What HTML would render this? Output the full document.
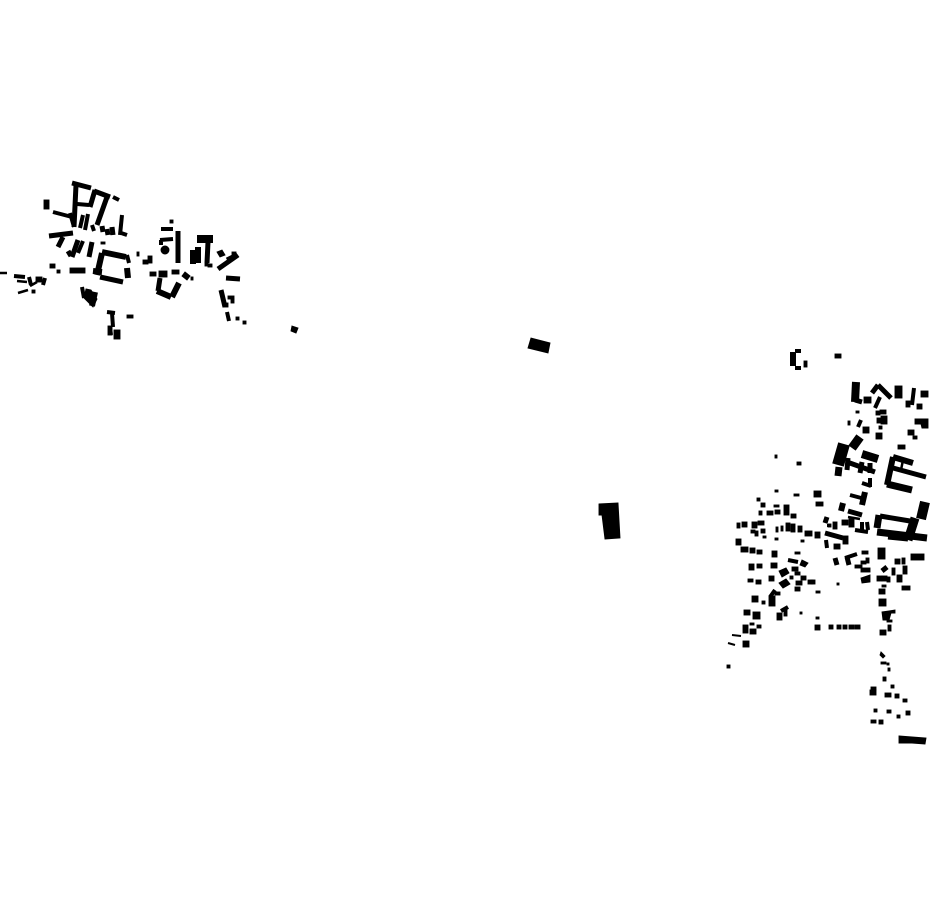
<!DOCTYPE html>
<html><head><meta charset="utf-8"><title>Figure-ground map</title>
<style>html,body{margin:0;padding:0;background:#fff}svg{display:block}</style></head>
<body>
<svg width="930" height="924" viewBox="0 0 930 924" xmlns="http://www.w3.org/2000/svg">
<rect width="930" height="924" fill="#fff"/>
<g fill="#000" stroke="#000" stroke-width="0.9">
<!-- big isolated -->
<polygon points="531,338 550,343 548,353 528,348"/>
<polygon points="599,504 618,503 620,538 605,539 602,515 599,515"/>
<polygon points="292,326 298,328 296,333 291,331"/>
<polygon points="899,736 926,738 925,744 912,743 899,743"/>
<polygon points="915,419 928,419 928,428 922,428 921,424 915,424"/>
<polygon points="86,289 91,290 97,299 93,307 84,298"/>
<!-- west blocks -->
<rect x="44" y="200" width="5" height="9"/><rect x="70" y="268" width="15" height="5"/><rect x="50" y="264" width="5" height="4"/><rect x="57" y="270" width="3" height="3"/>
<rect x="143" y="260" width="5" height="4"/><rect x="148" y="256" width="4" height="7"/><rect x="137" y="252" width="2" height="4"/>
<rect x="101" y="242" width="4" height="2"/><rect x="36" y="277" width="6" height="5"/><rect x="32" y="290" width="3" height="3"/>
<rect x="170" y="220" width="3" height="3"/><circle cx="165" cy="250" r="4"/><rect x="150" y="272" width="6" height="4"/><rect x="159" y="271" width="8" height="6"/><rect x="172" y="270" width="7" height="4"/><polygon points="185,272 190,276 187,280 182,276"/><rect x="191" y="277" width="2" height="3"/>
<rect x="208" y="264" width="4" height="3"/><rect x="205" y="263" width="3" height="3"/><polygon points="217,252 222,250 225,255 220,257"/><rect x="232" y="252" width="4" height="3"/>
<rect x="236" y="317" width="3" height="3"/><rect x="243" y="321" width="3" height="3"/><rect x="228" y="296" width="6" height="3"/><rect x="231" y="299" width="3" height="4"/><rect x="223" y="303" width="5" height="4"/>
<rect x="127" y="315" width="6" height="3"/><rect x="114" y="330" width="6" height="9"/><rect x="108" y="326" width="4" height="9"/>
<!-- mid east isolated -->
<rect x="835" y="354" width="6" height="4"/><rect x="804" y="361" width="3" height="6"/><rect x="797" y="462" width="4" height="3"/><rect x="775" y="455" width="2" height="3"/><rect x="814" y="491" width="7" height="6"/><rect x="816" y="502" width="7" height="4"/><rect x="794" y="494" width="5" height="2"/><rect x="775" y="490" width="3" height="2"/>
<!-- NE -->
<rect x="864" y="397" width="7" height="6"/><rect x="895" y="386" width="7" height="12"/><rect x="921" y="391" width="7" height="6"/><rect x="906" y="401" width="4" height="6"/><rect x="917" y="404" width="5" height="5"/><rect x="856" y="411" width="3" height="2"/><rect x="880" y="410" width="6" height="4"/><rect x="876" y="411" width="4" height="4"/><rect x="877" y="418" width="5" height="5"/><rect x="881" y="416" width="6" height="8"/><rect x="879" y="426" width="3" height="3"/><rect x="848" y="421" width="2" height="4"/><rect x="863" y="427" width="6" height="6"/><rect x="876" y="433" width="6" height="6"/><rect x="908" y="430" width="6" height="5"/><rect x="913" y="436" width="4" height="3"/><rect x="898" y="445" width="7" height="4"/>
<!-- south of town east -->
<rect x="849" y="519" width="5" height="8"/><rect x="842" y="520" width="6" height="5"/><rect x="833" y="522" width="4" height="7"/><rect x="828" y="524" width="3" height="3"/>
<rect x="815" y="532" width="5" height="6"/><rect x="805" y="531" width="7" height="5"/><rect x="798" y="526" width="4" height="6"/><rect x="791" y="524" width="4" height="8"/><rect x="786" y="523" width="4" height="8"/><rect x="781" y="526" width="2" height="5"/><rect x="776" y="527" width="2" height="5"/><rect x="843" y="536" width="5" height="8"/><rect x="834" y="544" width="6" height="5"/>
<rect x="878" y="548" width="7" height="11"/><rect x="911" y="554" width="13" height="6"/><rect x="895" y="559" width="5" height="5"/><rect x="902" y="558" width="3" height="6"/><rect x="892" y="568" width="3" height="7"/><rect x="903" y="566" width="4" height="8"/><rect x="897" y="575" width="5" height="7"/><rect x="877" y="576" width="5" height="5"/><rect x="882" y="576" width="5" height="5"/><rect x="887" y="577" width="3" height="5"/><rect x="902" y="586" width="8" height="4"/><rect x="882" y="585" width="4" height="2"/><rect x="879" y="589" width="6" height="5"/><rect x="879" y="599" width="7" height="7"/>
<polygon points="882,612 895,610 895,613 891,613 889,620 883,620"/><rect x="887" y="620" width="5" height="2"/><rect x="880" y="630" width="6" height="5"/><rect x="888" y="625" width="3" height="6"/>
<rect x="855" y="565" width="7" height="3"/><rect x="861" y="561" width="5" height="3"/><rect x="866" y="558" width="3" height="5"/><rect x="861" y="568" width="9" height="4"/><polygon points="861,578 870,575 870,582 862,583"/><rect x="862" y="551" width="6" height="3"/><rect x="811" y="580" width="4" height="4"/><rect x="816" y="591" width="4" height="2"/><rect x="837" y="583" width="2" height="2"/>
<!-- dotted row -->
<rect x="815" y="625" width="5" height="5"/><rect x="829" y="625" width="4" height="4"/><rect x="837" y="625" width="4" height="4"/><rect x="843" y="625" width="4" height="4"/><rect x="849" y="625" width="5" height="4"/><rect x="855" y="625" width="5" height="4"/><rect x="816" y="617" width="3" height="2"/>
<!-- SW cluster -->
<rect x="757" y="498" width="3" height="3"/><rect x="761" y="503" width="4" height="4"/><rect x="774" y="505" width="5" height="2"/><rect x="759" y="511" width="3" height="4"/><rect x="767" y="511" width="6" height="4"/><rect x="775" y="510" width="5" height="4"/><rect x="784" y="505" width="5" height="10"/><rect x="791" y="514" width="5" height="4"/>
<rect x="737" y="523" width="3" height="5"/><rect x="742" y="522" width="5" height="5"/><rect x="752" y="522" width="5" height="6"/><rect x="758" y="521" width="6" height="4"/><rect x="751" y="530" width="4" height="3"/><rect x="755" y="531" width="3" height="5"/><rect x="761" y="529" width="4" height="4"/><rect x="763" y="536" width="3" height="2"/><rect x="775" y="538" width="3" height="2"/><rect x="801" y="540" width="3" height="2"/>
<rect x="736" y="539" width="5" height="6"/><rect x="741" y="547" width="7" height="5"/><rect x="750" y="548" width="5" height="5"/><rect x="757" y="550" width="5" height="4"/><rect x="772" y="551" width="5" height="6"/><rect x="795" y="552" width="5" height="2"/>
<rect x="749" y="564" width="5" height="6"/><rect x="757" y="564" width="5" height="4"/><rect x="771" y="563" width="6" height="5"/><rect x="748" y="579" width="5" height="3"/><rect x="756" y="580" width="5" height="4"/><rect x="769" y="576" width="5" height="5"/>
<polygon points="779,571 786,568 789,573 782,577"/><polygon points="779,583 786,579 790,584 783,588"/><polygon points="802,560 808,563 805,567 800,565"/><rect x="792" y="567" width="6" height="4"/><rect x="795" y="572" width="5" height="3"/><rect x="790" y="576" width="3" height="3"/><rect x="801" y="576" width="5" height="4"/><rect x="796" y="581" width="6" height="4"/><rect x="795" y="587" width="5" height="4"/><rect x="808" y="580" width="5" height="4"/>
<rect x="752" y="596" width="6" height="6"/><rect x="762" y="601" width="3" height="3"/><rect x="769" y="596" width="6" height="10"/><rect x="775" y="592" width="5" height="3"/><rect x="777" y="613" width="5" height="7"/><rect x="784" y="609" width="3" height="7"/><rect x="800" y="612" width="2" height="2"/>
<rect x="744" y="610" width="6" height="5"/><rect x="753" y="612" width="7" height="7"/><rect x="743" y="625" width="5" height="8"/><rect x="750" y="623" width="4" height="2"/><rect x="750" y="629" width="6" height="5"/><rect x="757" y="625" width="4" height="3"/><rect x="743" y="641" width="6" height="6"/><rect x="727" y="665" width="3" height="3"/>
<!-- south dots -->
<polygon points="881,652 885,656 883,658 880,655"/><rect x="881" y="662" width="5" height="2"/><rect x="887" y="663" width="2" height="2"/><rect x="888" y="668" width="2" height="3"/><rect x="883" y="677" width="3" height="4"/><rect x="891" y="685" width="3" height="3"/><rect x="871" y="687" width="5" height="3"/><rect x="870" y="690" width="6" height="5"/><rect x="885" y="693" width="6" height="4"/><rect x="895" y="694" width="4" height="4"/><rect x="903" y="699" width="4" height="3"/><rect x="874" y="709" width="3" height="3"/><rect x="887" y="710" width="4" height="3"/><rect x="897" y="715" width="3" height="3"/><rect x="906" y="711" width="4" height="4"/><rect x="871" y="720" width="5" height="3"/><rect x="879" y="720" width="4" height="4"/>
</g>
<g fill="none" stroke="#000" stroke-linecap="butt" stroke-linejoin="miter">
<!-- west town -->
<path stroke-width="5" d="M72 183L91 188M76 185L74 227M94 191L110 197M95 190L90 207M107 197L97 225M49 236L73 233M63 237L58 247M78 240L72 257M92 242L89 257M102 226L103 232M107 229L108 235M112 227L113 235M68 251L71 256"/>
<path stroke-width="4" d="M77 204L89 205M113 197L119 200M53 212L72 217M70 213L74 227M83 215L80 228M88 214L85 230M92 225L94 231M83 241L78 253M122 215L120 235M121 233L127 235M127 255L129 263"/>
<path stroke-width="6" d="M102 253L97 275M102 252L126 257M127 268L128 278M93 271L102 272"/>
<path stroke-width="5" d="M100 277L123 282"/>
<!-- west left -->
<path stroke-width="2.5" d="M0 273L7 273M18 293L28 290M17 281L27 282M30 286L37 282"/>
<path stroke-width="4" d="M14 276L25 277M29 277L31 285M45 278L43 285"/>
<path stroke-width="4" d="M82 287L84 298M107 312L115 313M112 313L113 327M110 327L111 335"/>
<path stroke-width="6" d="M95 292L92 306"/>
<!-- mid west -->
<path stroke-width="4" d="M161 229L173 229M160 240L173 239M161 240L161 245M227 312L229 321"/>
<path stroke-width="5" d="M178 231L178 263M208 242L207 263M160 278L158 291M218 269L238 255M226 278L240 279M221 290L225 307M227 260L235 256"/>
<path stroke-width="6" d="M193 250L193 264M198 247L198 263M157 291L171 297M179 283L172 297"/>
<path stroke-width="8" d="M197 239L213 239"/>
<!-- NE -->
<path stroke-width="6" d="M793 352L793 366"/>
<path stroke-width="4" d="M795 351L801 351M795 368L801 368M880 397L875 408M914 388L912 405M858 427L861 420"/>
<path stroke-width="8" d="M856 382L855 402"/>
<path stroke-width="5" d="M855 400L862 402M878 385L891 398M878 385L872 393"/>
<path stroke-width="9" d="M852 448L860 437"/>
<path stroke-width="12" d="M844 444L838 465"/>
<path stroke-width="7" d="M839 467L838 476"/>
<path stroke-width="5" d="M847 462L875 472M848 458L847 470M862 462L860 473M870 463L870 473"/>
<path stroke-width="8" d="M862 454L878 459"/>
<path stroke-width="4" d="M862 483L871 486M870 478L870 487M850 495L865 499"/>
<path stroke-width="6" d="M865 492L862 505M843 503L841 511"/>
<path stroke-width="6" d="M893 457L887 485M893 457L913 463"/>
<path stroke-width="5" d="M893 468L926 477M848 511L862 515"/>
<path stroke-width="7" d="M887 484L912 490"/>
<path stroke-width="2.5" d="M903 460L901 470M848 517L860 519"/>
<!-- courtyard -->
<path stroke-width="10" d="M925 502L921 519"/>
<path stroke-width="7" d="M879 515L877 528"/>
<path stroke-width="5" d="M880 516L910 521"/>
<path stroke-width="9" d="M915 518L908 540"/>
<path stroke-width="7" d="M877 532L927 538"/>
<path stroke-width="5" d="M888 537L908 539"/>
<!-- centre -->
<path stroke-width="5" d="M827 517L825 523M825 533L843 538M835 558L837 565M847 557L849 565M882 571L887 567"/>
<path stroke-width="4" d="M829 524L829 527M862 522L862 530M867 522L868 530M855 530L868 532M826 540L827 548M845 558L857 554"/>
<!-- SW bars -->
<path stroke-width="4" d="M788 560L798 562M788 607L781 611M775 590L770 597"/>
<path stroke-width="2" d="M732 635L741 636M728 643L735 645"/>
</g>
</svg>
</body></html>
